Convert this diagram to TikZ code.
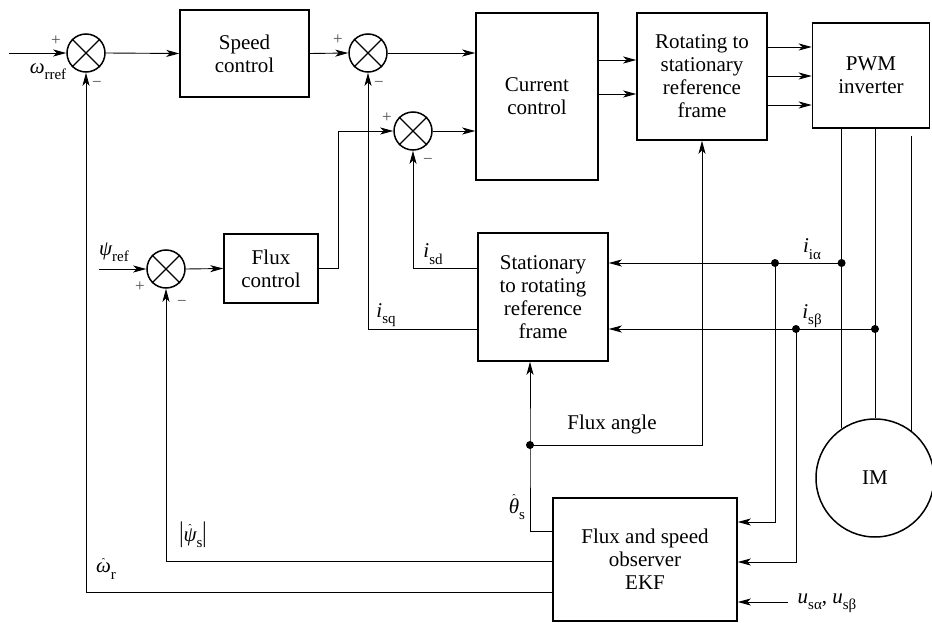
\documentclass[tikz,border=0pt]{standalone}
\usepackage{fontspec}
\setmainfont{Liberation Serif}
\usepackage{graphicx}
\usetikzlibrary{arrows.meta,calc}

\newcommand\hatsym[1]{\setbox0\hbox{#1}\ooalign{\copy0\cr\hidewidth\raisebox{\dimexpr\ht0-2.6pt\relax}{\fontsize{10}{10}\selectfont\char"02C6}\hidewidth\cr}}
\newcommand\subx[1]{\raisebox{-0.3em}{\fontsize{15}{15}\selectfont #1}}
\newcommand\symx[1]{{\itshape #1}}

\begin{document}
\begin{tikzpicture}[x=1pt,y=-1pt,
  box/.style={draw,line width=1.5pt,inner sep=0pt,align=center,font=\fontsize{21}{23}\selectfont},
  sumj/.style={draw,circle,line width=1.5pt,minimum size=38pt,inner sep=0pt},
  sig/.style={line width=0.9pt,-{Stealth[length=13pt,width=7pt,inset=3.5pt]}},
  wire/.style={line width=0.9pt},
  lab/.style={font=\fontsize{21}{21}\selectfont,inner sep=0pt},
  pm/.style={font=\fontsize{17}{17}\selectfont,inner sep=0pt,text=black!70},
  dotn/.style={circle,fill,inner sep=0pt,minimum size=8pt}
]
\useasboundingbox (0,0) rectangle (932,623);

% blocks
\node[sumj] (sum1) at (86,53) {};
\node[box,minimum width=129pt,minimum height=87pt] (speed) at (244.5,53.5) {Speed\\control};
\node[sumj] (sum2) at (368,53) {};
\node[sumj] (sum3) at (413,131) {};
\node[box,minimum width=122pt,minimum height=167pt] (cur) at (537,96.5) {Current\\control};
\node[box,minimum width=130pt,minimum height=127pt] (rot) at (702,76.5) {Rotating to\\stationary\\reference\\frame};
\node[box,minimum width=117pt,minimum height=105pt] (pwm) at (871,75.5) {PWM\\inverter};
\node[sumj] (fsum) at (166,269) {};
\node[box,minimum width=94pt,minimum height=69pt] (flux) at (271,268.5) {Flux\\control};
\node[box,minimum width=130pt,minimum height=128pt] (stat) at (543,297) {Stationary\\to rotating\\reference\\frame};
\node[box,minimum width=184pt,minimum height=123pt] (ekf) at (645,559.5) {Flux and speed\\observer\\EKF};
\node[draw,circle,line width=1.5pt,minimum size=118pt,inner sep=0pt,font=\fontsize{21}{23}\selectfont] (im) at (875,478) {IM};

\foreach \s in {sum1,sum2,sum3,fsum}
  \draw[line width=1.1pt] (\s.north west)--(\s.south east) (\s.north east)--(\s.south west);

% coordinates
\coordinate (win) at (9,53);
\coordinate (psin) at (99,269);
\coordinate (j3) at (338,131);
\coordinate (fa) at (530,445);
\coordinate (uin) at (788,602);
\coordinate (la) at (im.124 |- 0,263);
\coordinate (lb) at (775,263);
\coordinate (ma) at (im.north |- 0,329);
\coordinate (mb) at (796,329);

% forward path
\draw[sig] (win) -- (sum1.west);
\draw[sig] (sum1.east) -- (speed.west);
\draw[sig] (speed.east) -- (sum2.west);
\draw[sig] (sum2.east) -- (sum2.east -| cur.west);
\draw[sig] (sum3.east) -- (sum3.east -| cur.west);
\draw[sig] (cur.east |- 0,60) -- (rot.west |- 0,60);
\draw[sig] (cur.east |- 0,94) -- (rot.west |- 0,94);
\draw[sig] (rot.east |- 0,47) -- (pwm.west |- 0,47);
\draw[sig] (rot.east |- 0,76) -- (pwm.west |- 0,76);
\draw[sig] (rot.east |- 0,105) -- (pwm.west |- 0,105);

% inverter to motor
\draw[wire] (im.124 |- pwm.south) -- (im.124);
\draw[wire] (im.north |- pwm.south) -- (im.north);
\draw[wire] (im.52.4 |- 0,136) -- (im.52.4);

% flux path
\draw[sig] (psin) -- (fsum.west);
\draw[sig] (fsum.east) -- (flux.west);
\draw[sig] (flux.east) -| (j3) -- (sum3.west);

% current feedback
\draw[sig] (stat.west |- 0,268) -| (sum3.south);
\draw[sig] (stat.west |- 0,329) -| (sum2.south);
\draw[sig] (la) -- (stat.east |- la);
\draw[sig] (ma) -- (stat.east |- ma);
\draw[sig] (lb) |- (ekf.east |- 0,522);
\draw[sig] (mb) |- (ekf.east |- 0,562);
\draw[sig] (uin) -- (ekf.east |- uin);

% observer outputs
\draw[sig] (ekf.west |- 0,531) -| (fa) -- (fa |- stat.south);
\draw[sig] (fa) -| (rot.south);
\draw[sig] (ekf.west |- 0,561) -| (fsum.south);
\draw[sig] (ekf.west |- 0,592) -| (sum1.south);

% dots
\foreach \d in {la,lb,ma,mb,fa} \node[dotn] at (\d) {};

% signs
\node[pm] (p1) at (56,41) {+};
\node[pm] (m1) at (97,84) {−};
\node[pm] (p2) at (338,40) {+};
\node[pm] (m2) at (379,84) {−};
\node[pm] (p3) at (387,118) {+};
\node[pm] (m3) at (428,161) {−};
\node[pm] (p4) at (140,287) {+};
\node[pm] (m4) at (182,303) {−};

% labels
\node[lab] (lw) at (48,72) {\symx{ω}\subx{rref}};
\node[lab] (lpsi) at (114,252) {\symx{ψ}\subx{ref}};
\node[lab] (lsd) at (433,254) {\symx{i}\subx{sd}};
\node[lab] (lsq) at (386,315) {\symx{i}\subx{sq}};
\node[lab] (lia) at (812,249) {\symx{i}\subx{iα}};
\node[lab] (lib) at (812,316) {\symx{i}\subx{sβ}};
\node[lab] (lfa) at (612,424) {Flux angle};
\node[lab] (lth) at (517,509) {\hatsym{\symx{θ}}\subx{s}};
\node[lab] (lps) at (193,535) {\scalebox{1}[1.35]{|}\hatsym{\symx{ψ}}\subx{s}\scalebox{1}[1.35]{|}};
\node[lab] (lwr) at (106,571) {\hatsym{\symx{ω}}\subx{r}};
\node[lab] (lu) at (827,603) {\symx{u}\subx{sα}, \symx{u}\subx{sβ}};
\end{tikzpicture}
\end{document}
